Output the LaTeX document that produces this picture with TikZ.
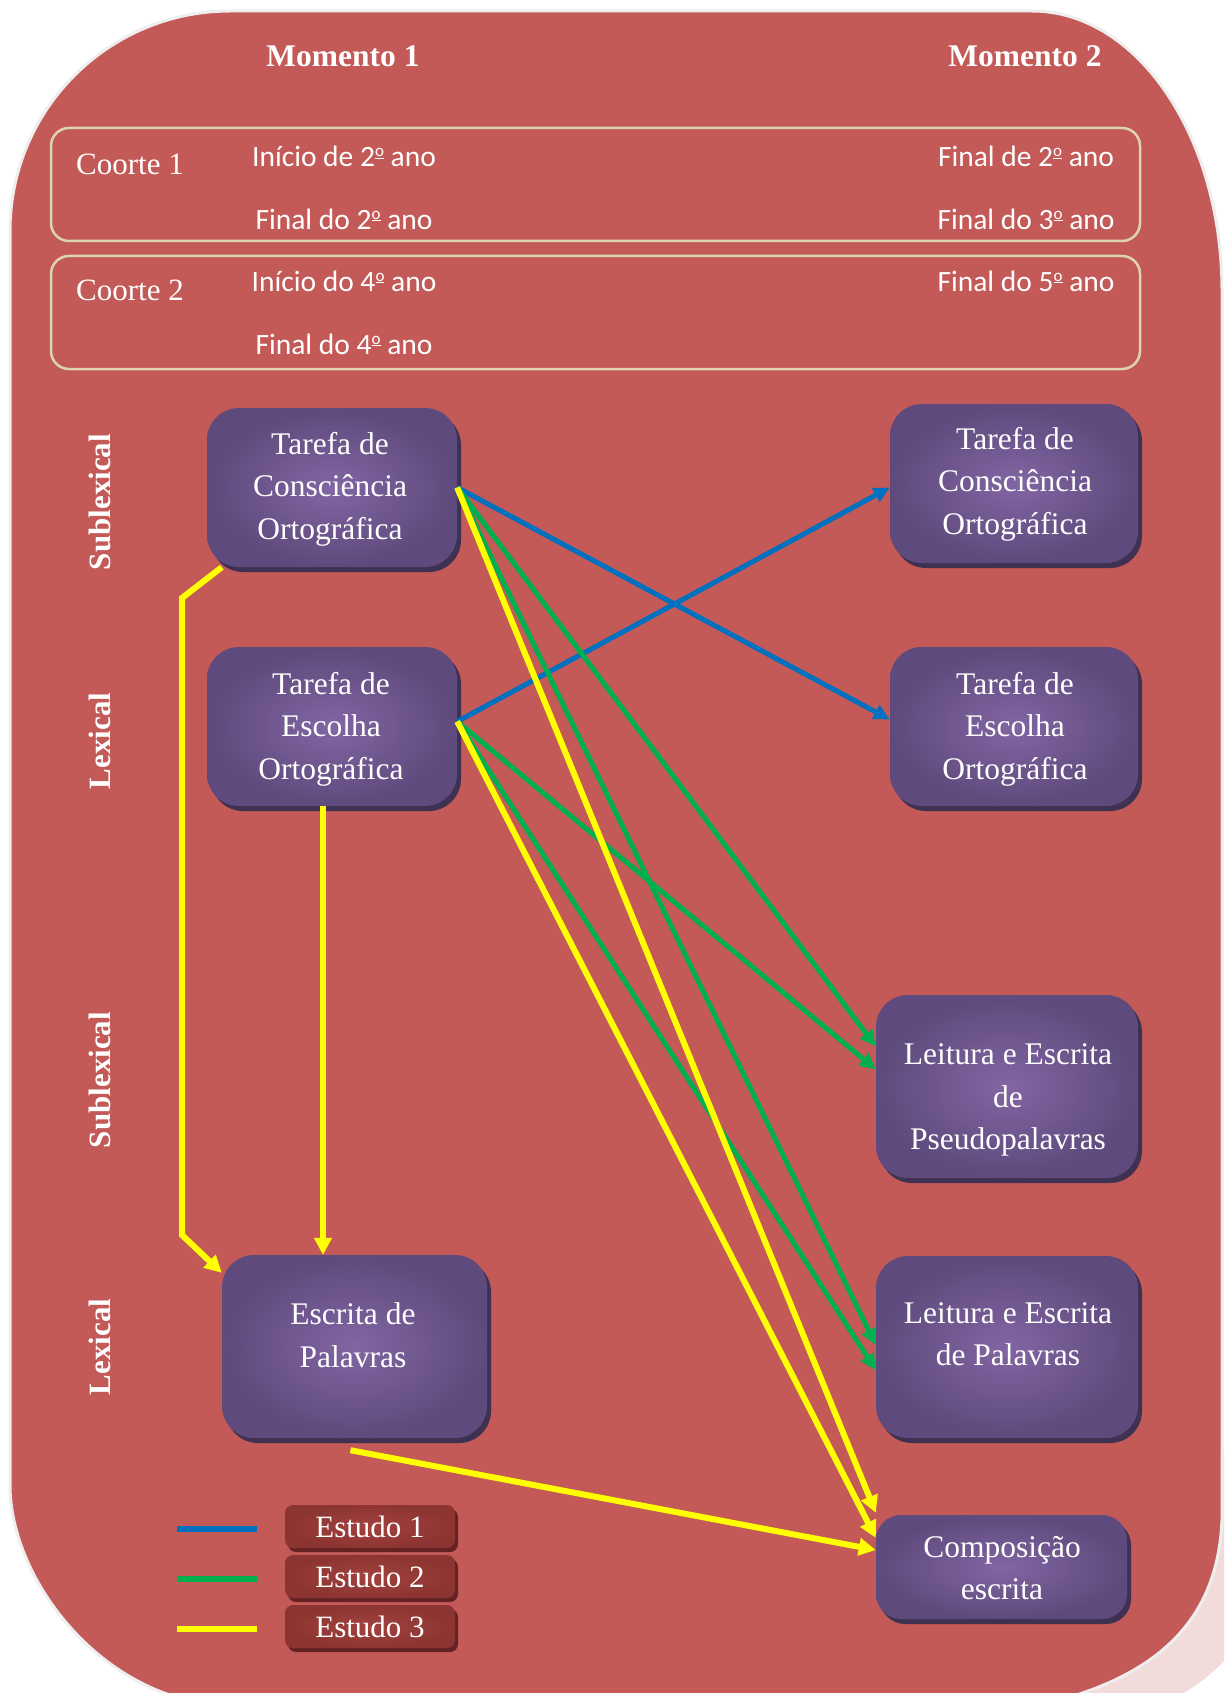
\documentclass[tikz,border=0pt]{standalone}
\usepackage{fontspec}
\setmainfont{Liberation Serif}
\newfontfamily\calibri{Carlito}
\usetikzlibrary{arrows.meta,shadows}

\definecolor{bgred}{HTML}{C35A57}
\definecolor{bgshade}{HTML}{F2DCDB}
\definecolor{panelrim}{HTML}{EEEEEE}
\definecolor{boxin}{HTML}{8265A3}
\definecolor{boxout}{HTML}{5E4A7C}
\definecolor{boxrim}{HTML}{3F3152}
\definecolor{cohortline}{HTML}{DCD3B6}
\definecolor{est1}{HTML}{0070C0}
\definecolor{est2}{HTML}{00B050}
\definecolor{est3}{HTML}{FFFF00}
\definecolor{legin}{HTML}{A2423F}
\definecolor{legout}{HTML}{8C3431}
\definecolor{legrim}{HTML}{642322}

% masculine ordinal indicator drawn as a raised, underlined o
\newcommand\ordo{\raisebox{0.34em}{\fontsize{17}{17}\selectfont\underline{o}}}

\tikzset{
  pbox/.style={rectangle, rounded corners=32pt, shading=radial,
    inner color=boxin, outer color=boxout, inner sep=0pt,
    drop shadow={shadow xshift=4pt, shadow yshift=-5pt, fill=boxrim, opacity=1}},
  ptext/.style={text=white, align=center, inner sep=0pt,
    font=\fontsize{31.5}{42.5}\selectfont},
  cohort/.style={draw=cohortline, line width=2.5pt, rounded corners=18pt, inner sep=0pt},
  ctext/.style={text=white, inner sep=0pt, font=\fontsize{31}{36}\selectfont},
  yeartext/.style={text=white, inner sep=0pt, font=\calibri\fontsize{29.5}{36}\selectfont},
  headtext/.style={text=white, inner sep=0pt, font=\bfseries\fontsize{31.5}{36}\selectfont},
  sidetext/.style={text=white, inner sep=0pt, rotate=90, font=\bfseries\fontsize{31}{36}\selectfont},
  legbox/.style={rectangle, rounded corners=8pt, shading=radial,
    inner color=legin, outer color=legout, inner sep=0pt,
    minimum width=170pt, minimum height=43pt, text=white,
    font=\fontsize{31}{36}\selectfont,
    drop shadow={shadow xshift=3pt, shadow yshift=-4pt, fill=legrim, opacity=1}},
  legline/.style={line width=6pt},
  link/.style={line width=5pt, -{Triangle[length=16pt,width=15pt]}},
  study1/.style={link, draw=est1},
  study2/.style={link, draw=est2},
  study3/.style={link, draw=est3, line width=6pt, -{Triangle[length=17pt,width=17pt]}},
}

\begin{document}
\begin{tikzpicture}[x=1pt,y=-1pt]
\useasboundingbox (0,0) rectangle (1224,1693);
\clip (0,0) rectangle (1224,1693);

% soft page shadow at the lower right
\begin{scope}
  \clip (900,1450) rectangle (1224,1693);
  \filldraw[fill=bgshade, draw=white, line width=3pt, shift={(48,26)}]
    (10,231) .. controls (10,109.5) and (108.5,11) .. (230,11)
    -- (1032,11) .. controls (1137,11) and (1222,136) .. (1222,291)
    -- (1222,1520) .. controls (1218,1610) and (1170,1675) .. (1040,1705)
    -- (230,1705) .. controls (108.5,1705) and (10,1583.5) .. (10,1485) -- cycle;
\end{scope}

% red panel
\filldraw[fill=bgred, draw=panelrim, line width=3pt]
  (10,231) .. controls (10,109.5) and (108.5,11) .. (230,11)
  -- (1032,11) .. controls (1137,11) and (1222,136) .. (1222,291)
  -- (1222,1520) .. controls (1218,1610) and (1170,1675) .. (1040,1705)
  -- (230,1705) .. controls (108.5,1705) and (10,1583.5) .. (10,1485) -- cycle;

% headings
\node[headtext] (m1) at (343,56) {Momento 1};
\node[headtext] (m2) at (1025,56) {Momento 2};

% cohorts
\node[cohort, minimum width=1089pt, minimum height=113pt] (c1) at (595.5,184.5) {};
\node[cohort, minimum width=1089pt, minimum height=113pt] (c2) at (595.5,312.5) {};
\node[ctext, anchor=west] (c1t) at (76,164) {Coorte 1};
\node[ctext, anchor=west] (c2t) at (76,290) {Coorte 2};
\node[yeartext] (c1a) at (344,156.5) {Início de 2\ordo{} ano};
\node[yeartext] (c1b) at (344,219) {Final do 2\ordo{} ano};
\node[yeartext] (c1c) at (1026,156.5) {Final de 2\ordo{} ano};
\node[yeartext] (c1d) at (1026,219) {Final do 3\ordo{} ano};
\node[yeartext] (c2a) at (344,281) {Início do 4\ordo{} ano};
\node[yeartext] (c2b) at (344,344) {Final do 4\ordo{} ano};
\node[yeartext] (c2c) at (1026,281) {Final do 5\ordo{} ano};

% side labels
\node[sidetext] (s1) at (100,502) {Sublexical};
\node[sidetext] (s2) at (100,741) {Lexical};
\node[sidetext] (s3) at (100,1080) {Sublexical};
\node[sidetext] (s4) at (100,1347) {Lexical};

% task boxes
\node[pbox, minimum width=250pt, minimum height=159pt] (tcoL) at (332,487.5) {};
\node[pbox, minimum width=250pt, minimum height=159pt] (teoL) at (332,726.5) {};
\node[pbox, minimum width=248pt, minimum height=159pt] (tcoR) at (1014,483.5) {};
\node[pbox, minimum width=248pt, minimum height=159pt] (teoR) at (1014,726.5) {};
\node[pbox, minimum width=262pt, minimum height=183pt] (pseudo) at (1007,1086.5) {};
\node[pbox, minimum width=262pt, minimum height=182pt] (lepal) at (1007,1347) {};
\node[pbox, minimum width=251pt, minimum height=104pt, rounded corners=25pt] (comp) at (1001.5,1567) {};
\node[pbox, minimum width=265pt, minimum height=183pt] (escpal) at (354.5,1346.5) {};

\node[ptext] (tcoLt) at (330,489) {Tarefa de\\Consciência\\Ortográfica};
\node[ptext] (teoLt) at (331,729) {Tarefa de\\Escolha\\Ortográfica};
\node[ptext] (tcoRt) at (1015,484) {Tarefa de\\Consciência\\Ortográfica};
\node[ptext] (teoRt) at (1015,729) {Tarefa de\\Escolha\\Ortográfica};
\node[ptext] (pseudot) at (1008,1100) {Leitura e Escrita\\de\\Pseudopalavras};
\node[ptext] (lepalt) at (1008,1334) {Leitura e Escrita\\de Palavras};
\node[ptext] (compt) at (1002,1568) {Composição\\escrita};
\node[ptext] (escpalt) at (353,1335) {Escrita de\\Palavras};

% legend
\node[legbox] (l1) at (370,1526.5) {Estudo 1};
\node[legbox] (l2) at (370,1576.5) {Estudo 2};
\node[legbox] (l3) at (370,1626.5) {Estudo 3};
\coordinate (k1) at (177,1529);
\coordinate (k2) at (177,1579);
\coordinate (k3) at (177,1629);
\draw[legline, est1] (k1) -- ++(80,0);
\draw[legline, est2] (k2) -- ++(80,0);
\draw[legline, est3] (k3) -- ++(80,0);

% Estudo 1
\draw[study1] (tcoL.east) -- ([yshift=7pt]teoR.west);
\draw[study1] ([yshift=5pt]teoL.east) -- ([yshift=-4pt]tcoR.west);

% Estudo 2
\draw[study2] (tcoL.east) -- ([yshift=40pt]pseudo.west);
\draw[study2] ([yshift=5pt]teoL.east) -- ([yshift=17pt]pseudo.west);
\draw[study2] (tcoL.east) -- ([yshift=2pt]lepal.west);
\draw[study2] ([yshift=5pt]teoL.east) -- ([yshift=-23pt]lepal.west);

% Estudo 3
\coordinate (bendA) at (182,598);
\coordinate (bendB) at (182,1235);
\draw[study3] (tcoL.east) -- ([yshift=2pt]comp.north west);
\draw[study3] ([yshift=5pt]teoL.east) -- ([yshift=-23pt]comp.north west);
\draw[study3] ([shift={(-4pt,-12pt)}]escpal.south) -- ([yshift=17pt]comp.west);
\draw[study3] ([xshift=15pt]tcoL.south west) -- (bendA) -- (bendB) -- ([yshift=-18pt]escpal.north west);
\draw[study3] ([xshift=-9pt]teoL.south) -- ([xshift=-9pt]teoL.south |- escpal.north);
\end{tikzpicture}
\end{document}
